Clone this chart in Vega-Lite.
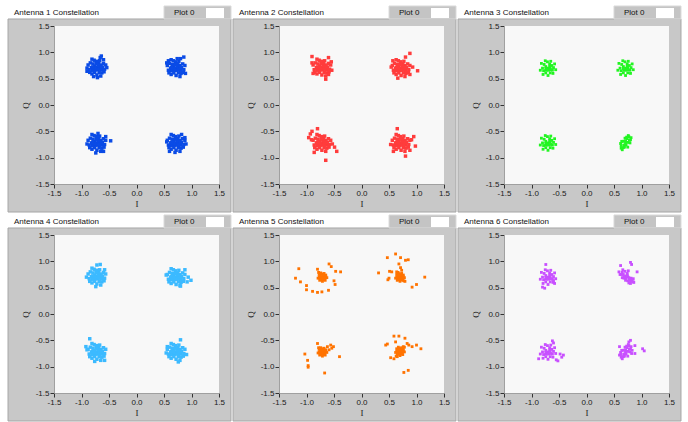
{
"$schema":"https://vega.github.io/schema/vega-lite/v6.json",
"background":"white",
"padding":{"left":7,"top":5,"right":0,"bottom":0},
"columns":3,
"spacing":{"row":51,"column":60},
"bounds":"flush",
"datasets":{
"d1":[
{"i":-0.72,"q":0.71},{"i":-0.68,"q":0.72},{"i":-0.76,"q":0.74},{"i":-0.71,"q":0.67},{"i":-0.75,"q":0.67},{"i":-0.65,"q":0.76},{"i":-0.79,"q":0.78},{"i":-0.64,"q":0.67},{"i":-0.80,"q":0.66},{"i":-0.69,"q":0.79},{"i":-0.73,"q":0.83},{"i":-0.68,"q":0.62},{"i":-0.76,"q":0.62},{"i":-0.62,"q":0.72},{"i":-0.82,"q":0.71},{"i":-0.60,"q":0.79},{"i":-0.84,"q":0.80},{"i":-0.63,"q":0.61},{"i":-0.81,"q":0.59},{"i":-0.67,"q":0.84},{"i":-0.77,"q":0.85},{"i":-0.58,"q":0.68},{"i":-0.86,"q":0.67},{"i":-0.72,"q":0.57},{"i":-0.56,"q":0.76},{"i":-0.88,"q":0.76},{"i":-0.65,"q":0.55},{"i":-0.81,"q":0.87},{"i":-0.59,"q":0.63},{"i":-0.85,"q":0.62},{"i":-0.69,"q":0.75},{"i":-0.76,"q":0.70},{"i":-0.67,"q":0.68},{"i":-0.73,"q":0.78},{"i":-0.80,"q":0.72},{"i":-0.64,"q":0.72},
{"i":-0.66,"q":0.90},{"i":-0.64,"q":0.93},{"i":-0.90,"q":0.70},{"i":-0.54,"q":0.71},{"i":-0.71,"q":0.52},{"i":-0.78,"q":0.54},{"i":-0.90,"q":0.64},{"i":-0.60,"q":0.86},
{"i":0.72,"q":0.70},{"i":0.76,"q":0.71},{"i":0.68,"q":0.73},{"i":0.73,"q":0.66},{"i":0.69,"q":0.66},{"i":0.79,"q":0.75},{"i":0.65,"q":0.77},{"i":0.80,"q":0.66},{"i":0.64,"q":0.65},{"i":0.75,"q":0.78},{"i":0.71,"q":0.82},{"i":0.76,"q":0.61},{"i":0.68,"q":0.61},{"i":0.82,"q":0.71},{"i":0.62,"q":0.70},{"i":0.84,"q":0.78},{"i":0.60,"q":0.79},{"i":0.81,"q":0.60},{"i":0.63,"q":0.58},{"i":0.77,"q":0.83},{"i":0.67,"q":0.84},{"i":0.86,"q":0.67},{"i":0.58,"q":0.66},{"i":0.72,"q":0.56},{"i":0.88,"q":0.75},{"i":0.56,"q":0.75},{"i":0.79,"q":0.54},{"i":0.63,"q":0.86},{"i":0.85,"q":0.62},{"i":0.59,"q":0.61},{"i":0.75,"q":0.74},{"i":0.68,"q":0.69},{"i":0.77,"q":0.67},{"i":0.71,"q":0.77},{"i":0.64,"q":0.71},{"i":0.80,"q":0.71},
{"i":0.86,"q":0.91},{"i":0.55,"q":0.80},{"i":0.58,"q":0.84},{"i":0.89,"q":0.60},{"i":0.74,"q":0.88},{"i":0.80,"q":0.88},
{"i":-0.72,"q":-0.72},{"i":-0.68,"q":-0.71},{"i":-0.76,"q":-0.69},{"i":-0.71,"q":-0.76},{"i":-0.75,"q":-0.76},{"i":-0.65,"q":-0.67},{"i":-0.79,"q":-0.65},{"i":-0.64,"q":-0.76},{"i":-0.80,"q":-0.77},{"i":-0.69,"q":-0.64},{"i":-0.73,"q":-0.60},{"i":-0.68,"q":-0.81},{"i":-0.76,"q":-0.81},{"i":-0.62,"q":-0.71},{"i":-0.82,"q":-0.72},{"i":-0.60,"q":-0.64},{"i":-0.84,"q":-0.63},{"i":-0.63,"q":-0.82},{"i":-0.81,"q":-0.84},{"i":-0.67,"q":-0.59},{"i":-0.77,"q":-0.58},{"i":-0.58,"q":-0.75},{"i":-0.86,"q":-0.76},{"i":-0.72,"q":-0.86},{"i":-0.56,"q":-0.67},{"i":-0.88,"q":-0.67},{"i":-0.65,"q":-0.88},{"i":-0.81,"q":-0.56},{"i":-0.59,"q":-0.80},{"i":-0.85,"q":-0.81},{"i":-0.69,"q":-0.68},{"i":-0.76,"q":-0.73},{"i":-0.67,"q":-0.75},{"i":-0.73,"q":-0.65},{"i":-0.80,"q":-0.71},{"i":-0.64,"q":-0.71},
{"i":-0.47,"q":-0.68},{"i":-0.74,"q":-0.91},{"i":-0.90,"q":-0.74},{"i":-0.56,"q":-0.60},{"i":-0.70,"q":-0.54},{"i":-0.60,"q":-0.88},
{"i":0.72,"q":-0.72},{"i":0.76,"q":-0.71},{"i":0.68,"q":-0.69},{"i":0.73,"q":-0.76},{"i":0.69,"q":-0.76},{"i":0.79,"q":-0.67},{"i":0.65,"q":-0.65},{"i":0.80,"q":-0.76},{"i":0.64,"q":-0.77},{"i":0.75,"q":-0.64},{"i":0.71,"q":-0.60},{"i":0.76,"q":-0.81},{"i":0.68,"q":-0.81},{"i":0.82,"q":-0.71},{"i":0.62,"q":-0.72},{"i":0.84,"q":-0.64},{"i":0.60,"q":-0.63},{"i":0.81,"q":-0.82},{"i":0.63,"q":-0.84},{"i":0.77,"q":-0.59},{"i":0.67,"q":-0.58},{"i":0.86,"q":-0.75},{"i":0.58,"q":-0.76},{"i":0.72,"q":-0.86},{"i":0.88,"q":-0.67},{"i":0.56,"q":-0.67},{"i":0.79,"q":-0.88},{"i":0.63,"q":-0.56},{"i":0.85,"q":-0.80},{"i":0.59,"q":-0.81},{"i":0.75,"q":-0.68},{"i":0.68,"q":-0.73},{"i":0.77,"q":-0.75},{"i":0.71,"q":-0.65},{"i":0.64,"q":-0.71},{"i":0.80,"q":-0.71},
{"i":0.82,"q":-0.56},{"i":0.88,"q":-0.62},{"i":0.90,"q":-0.74},{"i":0.60,"q":-0.88},{"i":0.55,"q":-0.70},{"i":0.70,"q":-0.90}
],
"d2":[
{"i":-0.72,"q":0.71},{"i":-0.68,"q":0.72},{"i":-0.76,"q":0.74},{"i":-0.71,"q":0.67},{"i":-0.75,"q":0.67},{"i":-0.65,"q":0.76},{"i":-0.79,"q":0.78},{"i":-0.64,"q":0.67},{"i":-0.80,"q":0.66},{"i":-0.69,"q":0.79},{"i":-0.73,"q":0.83},{"i":-0.68,"q":0.62},{"i":-0.76,"q":0.62},{"i":-0.62,"q":0.72},{"i":-0.82,"q":0.71},{"i":-0.60,"q":0.79},{"i":-0.84,"q":0.80},{"i":-0.63,"q":0.61},{"i":-0.81,"q":0.59},{"i":-0.67,"q":0.84},{"i":-0.77,"q":0.85},{"i":-0.58,"q":0.68},{"i":-0.86,"q":0.67},{"i":-0.72,"q":0.57},{"i":-0.56,"q":0.76},{"i":-0.88,"q":0.76},{"i":-0.65,"q":0.55},{"i":-0.81,"q":0.87},{"i":-0.59,"q":0.63},{"i":-0.85,"q":0.62},{"i":-0.69,"q":0.75},{"i":-0.76,"q":0.70},{"i":-0.67,"q":0.68},{"i":-0.73,"q":0.78},{"i":-0.80,"q":0.72},{"i":-0.64,"q":0.72},
{"i":-0.90,"q":0.92},{"i":-0.60,"q":0.90},{"i":-0.55,"q":0.82},{"i":-0.65,"q":0.49},{"i":-0.90,"q":0.80},{"i":-0.60,"q":0.58},{"i":-0.88,"q":0.60},{"i":-0.54,"q":0.66},
{"i":0.72,"q":0.70},{"i":0.76,"q":0.71},{"i":0.68,"q":0.73},{"i":0.73,"q":0.66},{"i":0.69,"q":0.66},{"i":0.79,"q":0.75},{"i":0.65,"q":0.77},{"i":0.80,"q":0.66},{"i":0.64,"q":0.65},{"i":0.75,"q":0.78},{"i":0.71,"q":0.82},{"i":0.76,"q":0.61},{"i":0.68,"q":0.61},{"i":0.82,"q":0.71},{"i":0.62,"q":0.70},{"i":0.84,"q":0.78},{"i":0.60,"q":0.79},{"i":0.81,"q":0.60},{"i":0.63,"q":0.58},{"i":0.77,"q":0.83},{"i":0.67,"q":0.84},{"i":0.86,"q":0.67},{"i":0.58,"q":0.66},{"i":0.72,"q":0.56},{"i":0.88,"q":0.75},{"i":0.56,"q":0.75},{"i":0.79,"q":0.54},{"i":0.63,"q":0.86},{"i":0.85,"q":0.62},{"i":0.59,"q":0.61},{"i":0.75,"q":0.74},{"i":0.68,"q":0.69},{"i":0.77,"q":0.67},{"i":0.71,"q":0.77},{"i":0.64,"q":0.71},{"i":0.80,"q":0.71},
{"i":0.88,"q":0.98},{"i":1.02,"q":0.65},{"i":0.57,"q":0.84},{"i":0.88,"q":0.58},{"i":0.93,"q":0.72},{"i":0.66,"q":0.51},{"i":0.54,"q":0.72},{"i":0.80,"q":0.91},
{"i":-0.72,"q":-0.72},{"i":-0.68,"q":-0.71},{"i":-0.76,"q":-0.69},{"i":-0.71,"q":-0.76},{"i":-0.75,"q":-0.76},{"i":-0.65,"q":-0.67},{"i":-0.79,"q":-0.65},{"i":-0.64,"q":-0.76},{"i":-0.80,"q":-0.77},{"i":-0.69,"q":-0.64},{"i":-0.73,"q":-0.60},{"i":-0.68,"q":-0.81},{"i":-0.76,"q":-0.81},{"i":-0.62,"q":-0.71},{"i":-0.82,"q":-0.72},{"i":-0.60,"q":-0.64},{"i":-0.84,"q":-0.63},{"i":-0.63,"q":-0.82},{"i":-0.81,"q":-0.84},{"i":-0.67,"q":-0.59},{"i":-0.77,"q":-0.58},{"i":-0.58,"q":-0.75},{"i":-0.86,"q":-0.76},{"i":-0.72,"q":-0.86},{"i":-0.56,"q":-0.67},{"i":-0.88,"q":-0.67},{"i":-0.65,"q":-0.88},{"i":-0.81,"q":-0.56},{"i":-0.59,"q":-0.80},{"i":-0.85,"q":-0.81},{"i":-0.69,"q":-0.68},{"i":-0.76,"q":-0.73},{"i":-0.67,"q":-0.75},{"i":-0.73,"q":-0.65},{"i":-0.80,"q":-0.71},{"i":-0.64,"q":-0.71},
{"i":-0.90,"q":-0.50},{"i":-0.93,"q":-0.55},{"i":-0.96,"q":-0.62},{"i":-0.80,"q":-0.45},{"i":-0.65,"q":-1.05},{"i":-0.45,"q":-0.88},{"i":-0.49,"q":-0.80},{"i":-0.91,"q":-0.66},{"i":-0.53,"q":-0.74},{"i":-0.86,"q":-0.90},
{"i":0.72,"q":-0.72},{"i":0.76,"q":-0.71},{"i":0.68,"q":-0.69},{"i":0.73,"q":-0.76},{"i":0.69,"q":-0.76},{"i":0.79,"q":-0.67},{"i":0.65,"q":-0.65},{"i":0.80,"q":-0.76},{"i":0.64,"q":-0.77},{"i":0.75,"q":-0.64},{"i":0.71,"q":-0.60},{"i":0.76,"q":-0.81},{"i":0.68,"q":-0.81},{"i":0.82,"q":-0.71},{"i":0.62,"q":-0.72},{"i":0.84,"q":-0.64},{"i":0.60,"q":-0.63},{"i":0.81,"q":-0.82},{"i":0.63,"q":-0.84},{"i":0.77,"q":-0.59},{"i":0.67,"q":-0.58},{"i":0.86,"q":-0.75},{"i":0.58,"q":-0.76},{"i":0.72,"q":-0.86},{"i":0.88,"q":-0.67},{"i":0.56,"q":-0.67},{"i":0.79,"q":-0.88},{"i":0.63,"q":-0.56},{"i":0.85,"q":-0.80},{"i":0.59,"q":-0.81},{"i":0.75,"q":-0.68},{"i":0.68,"q":-0.73},{"i":0.77,"q":-0.75},{"i":0.71,"q":-0.65},{"i":0.64,"q":-0.71},{"i":0.80,"q":-0.71},
{"i":0.65,"q":-0.45},{"i":0.95,"q":-0.60},{"i":0.98,"q":-0.78},{"i":0.80,"q":-0.97},{"i":0.53,"q":-0.75},{"i":0.91,"q":-0.66},{"i":0.58,"q":-0.88},{"i":0.88,"q":-0.86}
],
"d3":[
{"i":-0.70,"q":0.70},{"i":-0.66,"q":0.71},{"i":-0.74,"q":0.73},{"i":-0.69,"q":0.66},{"i":-0.73,"q":0.66},{"i":-0.63,"q":0.75},{"i":-0.77,"q":0.77},{"i":-0.62,"q":0.66},{"i":-0.78,"q":0.65},{"i":-0.67,"q":0.78},{"i":-0.71,"q":0.82},{"i":-0.66,"q":0.61},{"i":-0.74,"q":0.61},{"i":-0.60,"q":0.71},{"i":-0.80,"q":0.70},{"i":-0.58,"q":0.78},{"i":-0.82,"q":0.79},{"i":-0.61,"q":0.60},{"i":-0.79,"q":0.58},{"i":-0.65,"q":0.83},{"i":-0.75,"q":0.84},{"i":-0.56,"q":0.67},{"i":-0.84,"q":0.66},{"i":-0.70,"q":0.56},{"i":-0.67,"q":0.74},{"i":-0.74,"q":0.69},{"i":-0.65,"q":0.67},
{"i":0.71,"q":0.70},{"i":0.75,"q":0.71},{"i":0.67,"q":0.73},{"i":0.72,"q":0.66},{"i":0.68,"q":0.66},{"i":0.78,"q":0.75},{"i":0.64,"q":0.77},{"i":0.79,"q":0.66},{"i":0.63,"q":0.65},{"i":0.74,"q":0.78},{"i":0.70,"q":0.82},{"i":0.75,"q":0.61},{"i":0.67,"q":0.61},{"i":0.81,"q":0.71},{"i":0.61,"q":0.70},{"i":0.83,"q":0.78},{"i":0.59,"q":0.79},{"i":0.80,"q":0.60},{"i":0.62,"q":0.58},{"i":0.76,"q":0.83},{"i":0.66,"q":0.84},{"i":0.85,"q":0.67},{"i":0.57,"q":0.66},{"i":0.71,"q":0.56},{"i":0.74,"q":0.74},{"i":0.67,"q":0.69},{"i":0.76,"q":0.67},
{"i":-0.70,"q":-0.72},{"i":-0.66,"q":-0.71},{"i":-0.74,"q":-0.69},{"i":-0.69,"q":-0.76},{"i":-0.73,"q":-0.76},{"i":-0.63,"q":-0.67},{"i":-0.77,"q":-0.65},{"i":-0.62,"q":-0.76},{"i":-0.78,"q":-0.77},{"i":-0.67,"q":-0.64},{"i":-0.71,"q":-0.60},{"i":-0.66,"q":-0.81},{"i":-0.74,"q":-0.81},{"i":-0.60,"q":-0.71},{"i":-0.80,"q":-0.72},{"i":-0.58,"q":-0.64},{"i":-0.82,"q":-0.63},{"i":-0.61,"q":-0.82},{"i":-0.79,"q":-0.84},{"i":-0.65,"q":-0.59},{"i":-0.75,"q":-0.58},{"i":-0.56,"q":-0.75},{"i":-0.84,"q":-0.76},{"i":-0.70,"q":-0.86},{"i":-0.67,"q":-0.68},{"i":-0.74,"q":-0.73},{"i":-0.65,"q":-0.75},
{"i":0.71,"q":-0.72},{"i":0.75,"q":-0.71},{"i":0.67,"q":-0.69},{"i":0.72,"q":-0.76},{"i":0.68,"q":-0.76},{"i":0.78,"q":-0.67},{"i":0.64,"q":-0.69},{"i":0.79,"q":-0.72},{"i":0.63,"q":-0.77},{"i":0.74,"q":-0.64},{"i":0.70,"q":-0.63},{"i":0.75,"q":-0.80},{"i":0.67,"q":-0.81},{"i":0.80,"q":-0.66},{"i":0.62,"q":-0.73},{"i":0.77,"q":-0.60},{"i":0.65,"q":-0.85},{"i":0.76,"q":-0.58},{"i":0.63,"q":-0.82},{"i":0.81,"q":-0.62},{"i":0.71,"q":-0.68},{"i":0.69,"q":-0.80},{"i":0.73,"q":-0.61}
],
"d4":[
{"i":-0.72,"q":0.71},{"i":-0.68,"q":0.72},{"i":-0.76,"q":0.74},{"i":-0.71,"q":0.67},{"i":-0.75,"q":0.67},{"i":-0.65,"q":0.76},{"i":-0.79,"q":0.78},{"i":-0.64,"q":0.67},{"i":-0.80,"q":0.66},{"i":-0.69,"q":0.79},{"i":-0.73,"q":0.83},{"i":-0.68,"q":0.62},{"i":-0.76,"q":0.62},{"i":-0.62,"q":0.72},{"i":-0.82,"q":0.71},{"i":-0.60,"q":0.79},{"i":-0.84,"q":0.80},{"i":-0.63,"q":0.61},{"i":-0.81,"q":0.59},{"i":-0.67,"q":0.84},{"i":-0.77,"q":0.85},{"i":-0.58,"q":0.68},{"i":-0.86,"q":0.67},{"i":-0.72,"q":0.57},{"i":-0.56,"q":0.76},{"i":-0.88,"q":0.76},{"i":-0.65,"q":0.55},{"i":-0.81,"q":0.87},{"i":-0.59,"q":0.63},{"i":-0.85,"q":0.62},{"i":-0.69,"q":0.75},{"i":-0.76,"q":0.70},{"i":-0.67,"q":0.68},{"i":-0.73,"q":0.78},{"i":-0.80,"q":0.72},{"i":-0.64,"q":0.72},
{"i":-0.72,"q":0.93},{"i":-0.66,"q":0.94},{"i":-0.91,"q":0.70},{"i":-0.58,"q":0.84},{"i":-0.74,"q":0.52},
{"i":0.72,"q":0.70},{"i":0.76,"q":0.71},{"i":0.68,"q":0.73},{"i":0.73,"q":0.66},{"i":0.69,"q":0.66},{"i":0.79,"q":0.75},{"i":0.65,"q":0.77},{"i":0.80,"q":0.66},{"i":0.64,"q":0.65},{"i":0.75,"q":0.78},{"i":0.71,"q":0.82},{"i":0.76,"q":0.61},{"i":0.68,"q":0.61},{"i":0.82,"q":0.71},{"i":0.62,"q":0.70},{"i":0.84,"q":0.78},{"i":0.60,"q":0.79},{"i":0.81,"q":0.60},{"i":0.63,"q":0.58},{"i":0.77,"q":0.83},{"i":0.67,"q":0.84},{"i":0.86,"q":0.67},{"i":0.58,"q":0.66},{"i":0.72,"q":0.56},{"i":0.88,"q":0.75},{"i":0.56,"q":0.75},{"i":0.79,"q":0.54},{"i":0.63,"q":0.86},{"i":0.85,"q":0.62},{"i":0.59,"q":0.61},{"i":0.75,"q":0.74},{"i":0.68,"q":0.69},{"i":0.77,"q":0.67},{"i":0.71,"q":0.77},{"i":0.64,"q":0.71},{"i":0.80,"q":0.71},
{"i":0.99,"q":0.64},{"i":0.92,"q":0.61},{"i":0.88,"q":0.84},{"i":0.54,"q":0.74},{"i":0.80,"q":0.53},{"i":0.94,"q":0.70},
{"i":-0.72,"q":-0.72},{"i":-0.68,"q":-0.71},{"i":-0.76,"q":-0.69},{"i":-0.71,"q":-0.76},{"i":-0.75,"q":-0.76},{"i":-0.65,"q":-0.67},{"i":-0.79,"q":-0.65},{"i":-0.64,"q":-0.76},{"i":-0.80,"q":-0.77},{"i":-0.69,"q":-0.64},{"i":-0.73,"q":-0.60},{"i":-0.68,"q":-0.81},{"i":-0.76,"q":-0.81},{"i":-0.62,"q":-0.71},{"i":-0.82,"q":-0.72},{"i":-0.60,"q":-0.64},{"i":-0.84,"q":-0.63},{"i":-0.63,"q":-0.82},{"i":-0.81,"q":-0.84},{"i":-0.67,"q":-0.59},{"i":-0.77,"q":-0.58},{"i":-0.58,"q":-0.75},{"i":-0.86,"q":-0.76},{"i":-0.72,"q":-0.86},{"i":-0.56,"q":-0.67},{"i":-0.88,"q":-0.67},{"i":-0.65,"q":-0.88},{"i":-0.81,"q":-0.56},{"i":-0.59,"q":-0.80},{"i":-0.85,"q":-0.81},{"i":-0.69,"q":-0.68},{"i":-0.76,"q":-0.73},{"i":-0.67,"q":-0.75},{"i":-0.73,"q":-0.65},{"i":-0.80,"q":-0.71},{"i":-0.64,"q":-0.71},
{"i":-0.85,"q":-0.47},{"i":-0.92,"q":-0.62},{"i":-0.90,"q":-0.68},{"i":-0.58,"q":-0.88},{"i":-0.76,"q":-0.90},
{"i":0.72,"q":-0.72},{"i":0.76,"q":-0.71},{"i":0.68,"q":-0.69},{"i":0.73,"q":-0.76},{"i":0.69,"q":-0.76},{"i":0.79,"q":-0.67},{"i":0.65,"q":-0.65},{"i":0.80,"q":-0.76},{"i":0.64,"q":-0.77},{"i":0.75,"q":-0.64},{"i":0.71,"q":-0.60},{"i":0.76,"q":-0.81},{"i":0.68,"q":-0.81},{"i":0.82,"q":-0.71},{"i":0.62,"q":-0.72},{"i":0.84,"q":-0.64},{"i":0.60,"q":-0.63},{"i":0.81,"q":-0.82},{"i":0.63,"q":-0.84},{"i":0.77,"q":-0.59},{"i":0.67,"q":-0.58},{"i":0.86,"q":-0.75},{"i":0.58,"q":-0.76},{"i":0.72,"q":-0.86},{"i":0.88,"q":-0.67},{"i":0.56,"q":-0.67},{"i":0.79,"q":-0.88},{"i":0.63,"q":-0.56},{"i":0.85,"q":-0.80},{"i":0.59,"q":-0.81},{"i":0.75,"q":-0.68},{"i":0.68,"q":-0.73},{"i":0.77,"q":-0.75},{"i":0.71,"q":-0.65},{"i":0.64,"q":-0.71},{"i":0.80,"q":-0.71},
{"i":0.80,"q":-0.49},{"i":0.56,"q":-0.62},{"i":0.91,"q":-0.77},{"i":0.76,"q":-0.91},{"i":0.54,"q":-0.74}
],
"d5":[
{"i":-0.71,"q":0.70},{"i":-0.69,"q":0.71},{"i":-0.73,"q":0.71},{"i":-0.70,"q":0.68},{"i":-0.72,"q":0.68},{"i":-0.67,"q":0.73},{"i":-0.75,"q":0.74},{"i":-0.67,"q":0.68},{"i":-0.75,"q":0.67},{"i":-0.70,"q":0.74},{"i":-0.72,"q":0.76},{"i":-0.69,"q":0.65},{"i":-0.73,"q":0.65},{"i":-0.65,"q":0.71},{"i":-0.77,"q":0.70},{"i":-0.65,"q":0.74},{"i":-0.77,"q":0.75},{"i":-0.66,"q":0.64},{"i":-0.76,"q":0.64},{"i":-0.68,"q":0.77},{"i":-0.74,"q":0.78},{"i":-0.63,"q":0.69},{"i":-0.79,"q":0.68},{"i":-0.71,"q":0.62},
{"i":-1.14,"q":0.86},{"i":-1.20,"q":0.68},{"i":-1.11,"q":0.61},{"i":-1.00,"q":0.54},{"i":-1.00,"q":0.46},{"i":-0.89,"q":0.43},{"i":-0.80,"q":0.41},{"i":-0.72,"q":0.42},{"i":-0.60,"q":0.45},{"i":-0.50,"q":0.63},{"i":-0.48,"q":0.56},{"i":-0.47,"q":0.81},{"i":-0.38,"q":0.80},{"i":-0.59,"q":0.95},{"i":-0.55,"q":0.90},{"i":-0.80,"q":0.85},{"i":-0.78,"q":0.79},
{"i":0.70,"q":0.70},{"i":0.72,"q":0.71},{"i":0.68,"q":0.71},{"i":0.71,"q":0.68},{"i":0.69,"q":0.68},{"i":0.74,"q":0.73},{"i":0.66,"q":0.74},{"i":0.74,"q":0.68},{"i":0.66,"q":0.67},{"i":0.71,"q":0.74},{"i":0.69,"q":0.76},{"i":0.72,"q":0.65},{"i":0.68,"q":0.65},{"i":0.76,"q":0.71},{"i":0.64,"q":0.70},{"i":0.76,"q":0.74},{"i":0.64,"q":0.75},{"i":0.75,"q":0.64},{"i":0.65,"q":0.64},{"i":0.73,"q":0.77},{"i":0.67,"q":0.78},{"i":0.78,"q":0.69},{"i":0.62,"q":0.68},{"i":0.70,"q":0.62},
{"i":0.77,"q":0.63},{"i":0.79,"q":0.62},{"i":0.66,"q":0.79},{"i":0.64,"q":0.80},
{"i":0.62,"q":1.14},{"i":0.71,"q":1.07},{"i":0.47,"q":1.07},{"i":0.80,"q":1.02},{"i":0.85,"q":1.03},{"i":0.31,"q":0.78},{"i":0.51,"q":0.81},{"i":0.55,"q":0.80},{"i":0.48,"q":0.65},{"i":0.71,"q":0.88},{"i":0.73,"q":0.83},{"i":1.00,"q":0.56},{"i":0.92,"q":0.51},{"i":1.15,"q":0.70},{"i":0.68,"q":0.95},{"i":0.50,"q":0.68},
{"i":-0.71,"q":-0.72},{"i":-0.69,"q":-0.71},{"i":-0.73,"q":-0.71},{"i":-0.70,"q":-0.74},{"i":-0.72,"q":-0.74},{"i":-0.67,"q":-0.69},{"i":-0.75,"q":-0.68},{"i":-0.67,"q":-0.74},{"i":-0.75,"q":-0.75},{"i":-0.70,"q":-0.68},{"i":-0.72,"q":-0.66},{"i":-0.69,"q":-0.77},{"i":-0.73,"q":-0.77},{"i":-0.65,"q":-0.71},{"i":-0.77,"q":-0.72},{"i":-0.65,"q":-0.68},{"i":-0.77,"q":-0.67},{"i":-0.66,"q":-0.78},{"i":-0.76,"q":-0.78},{"i":-0.68,"q":-0.65},{"i":-0.74,"q":-0.64},{"i":-0.63,"q":-0.73},{"i":-0.79,"q":-0.74},{"i":-0.71,"q":-0.80},
{"i":-0.80,"q":-0.56},{"i":-0.56,"q":-0.59},{"i":-0.51,"q":-0.62},{"i":-0.54,"q":-0.65},{"i":-1.03,"q":-0.76},{"i":-0.98,"q":-0.88},{"i":-0.97,"q":-0.98},{"i":-0.97,"q":-1.01},{"i":-0.67,"q":-1.12},{"i":-0.40,"q":-0.81},{"i":-0.62,"q":-0.62},{"i":-0.59,"q":-0.68},{"i":-0.78,"q":-0.64},
{"i":0.70,"q":-0.71},{"i":0.72,"q":-0.70},{"i":0.68,"q":-0.70},{"i":0.71,"q":-0.73},{"i":0.69,"q":-0.73},{"i":0.74,"q":-0.68},{"i":0.66,"q":-0.67},{"i":0.74,"q":-0.73},{"i":0.66,"q":-0.74},{"i":0.71,"q":-0.67},{"i":0.69,"q":-0.65},{"i":0.72,"q":-0.76},{"i":0.68,"q":-0.76},{"i":0.76,"q":-0.70},{"i":0.64,"q":-0.71},{"i":0.76,"q":-0.67},{"i":0.64,"q":-0.66},{"i":0.75,"q":-0.77},{"i":0.65,"q":-0.77},{"i":0.73,"q":-0.64},{"i":0.67,"q":-0.63},{"i":0.78,"q":-0.72},{"i":0.62,"q":-0.73},{"i":0.70,"q":-0.79},
{"i":0.76,"q":-0.62},{"i":0.78,"q":-0.63},{"i":0.63,"q":-0.80},{"i":0.65,"q":-0.81},
{"i":0.47,"q":-0.57},{"i":0.44,"q":-0.59},{"i":0.59,"q":-0.42},{"i":0.68,"q":-0.42},{"i":0.79,"q":-0.46},{"i":0.83,"q":-0.56},{"i":0.86,"q":-0.59},{"i":0.92,"q":-0.62},{"i":1.00,"q":-0.59},{"i":1.08,"q":-0.66},{"i":0.53,"q":-0.83},{"i":0.59,"q":-0.85},{"i":0.77,"q":-1.11},{"i":0.85,"q":-1.07},{"i":0.62,"q":-0.53}
],
"d6":[
{"i":-0.70,"q":0.70},{"i":-0.66,"q":0.71},{"i":-0.74,"q":0.73},{"i":-0.69,"q":0.66},{"i":-0.73,"q":0.66},{"i":-0.63,"q":0.75},{"i":-0.77,"q":0.77},{"i":-0.62,"q":0.66},{"i":-0.78,"q":0.65},{"i":-0.67,"q":0.78},{"i":-0.71,"q":0.82},{"i":-0.66,"q":0.61},{"i":-0.74,"q":0.61},{"i":-0.60,"q":0.71},{"i":-0.80,"q":0.70},{"i":-0.58,"q":0.78},{"i":-0.82,"q":0.79},{"i":-0.61,"q":0.60},{"i":-0.79,"q":0.58},{"i":-0.65,"q":0.83},{"i":-0.75,"q":0.84},{"i":-0.56,"q":0.67},{"i":-0.84,"q":0.66},{"i":-0.70,"q":0.56},{"i":-0.67,"q":0.74},{"i":-0.74,"q":0.69},{"i":-0.65,"q":0.67},
{"i":-0.74,"q":0.94},{"i":-0.80,"q":0.51},{"i":-0.76,"q":0.49},{"i":-0.58,"q":0.58},{"i":-0.60,"q":0.63},
{"i":0.71,"q":0.72},{"i":0.75,"q":0.71},{"i":0.67,"q":0.75},{"i":0.72,"q":0.68},{"i":0.68,"q":0.68},{"i":0.77,"q":0.69},{"i":0.65,"q":0.79},{"i":0.79,"q":0.65},{"i":0.63,"q":0.75},{"i":0.74,"q":0.77},{"i":0.70,"q":0.81},{"i":0.75,"q":0.63},{"i":0.80,"q":0.62},{"i":0.81,"q":0.68},{"i":0.61,"q":0.75},{"i":0.83,"q":0.64},{"i":0.59,"q":0.80},{"i":0.85,"q":0.61},{"i":0.65,"q":0.69},{"i":0.76,"q":0.82},{"i":0.66,"q":0.84},{"i":0.85,"q":0.67},{"i":0.77,"q":0.59},{"i":0.71,"q":0.64},{"i":0.74,"q":0.74},{"i":0.68,"q":0.71},{"i":0.78,"q":0.66},
{"i":0.62,"q":0.92},{"i":0.80,"q":0.98},{"i":0.92,"q":0.80},{"i":0.82,"q":0.94},{"i":0.86,"q":0.60},{"i":0.80,"q":0.58},
{"i":-0.70,"q":-0.72},{"i":-0.66,"q":-0.71},{"i":-0.74,"q":-0.69},{"i":-0.69,"q":-0.76},{"i":-0.73,"q":-0.76},{"i":-0.63,"q":-0.67},{"i":-0.77,"q":-0.65},{"i":-0.62,"q":-0.76},{"i":-0.78,"q":-0.77},{"i":-0.67,"q":-0.64},{"i":-0.71,"q":-0.60},{"i":-0.66,"q":-0.81},{"i":-0.74,"q":-0.81},{"i":-0.60,"q":-0.71},{"i":-0.80,"q":-0.72},{"i":-0.58,"q":-0.64},{"i":-0.82,"q":-0.63},{"i":-0.61,"q":-0.82},{"i":-0.79,"q":-0.84},{"i":-0.65,"q":-0.59},{"i":-0.75,"q":-0.58},{"i":-0.56,"q":-0.75},{"i":-0.84,"q":-0.76},{"i":-0.70,"q":-0.86},{"i":-0.67,"q":-0.68},{"i":-0.74,"q":-0.73},{"i":-0.65,"q":-0.75},
{"i":-0.48,"q":-0.76},{"i":-0.42,"q":-0.78},{"i":-0.45,"q":-0.82},{"i":-0.52,"q":-0.89},{"i":-0.87,"q":-0.85},{"i":-0.62,"q":-0.51},{"i":-0.60,"q":-0.55},{"i":-0.55,"q":-0.87},
{"i":0.71,"q":-0.72},{"i":0.75,"q":-0.71},{"i":0.67,"q":-0.69},{"i":0.72,"q":-0.76},{"i":0.68,"q":-0.76},{"i":0.78,"q":-0.67},{"i":0.64,"q":-0.69},{"i":0.79,"q":-0.72},{"i":0.63,"q":-0.77},{"i":0.74,"q":-0.64},{"i":0.70,"q":-0.63},{"i":0.75,"q":-0.80},{"i":0.67,"q":-0.81},{"i":0.80,"q":-0.66},{"i":0.62,"q":-0.73},{"i":0.77,"q":-0.60},{"i":0.65,"q":-0.85},{"i":0.76,"q":-0.58},{"i":0.63,"q":-0.82},{"i":0.81,"q":-0.62},{"i":0.71,"q":-0.68},{"i":0.69,"q":-0.80},{"i":0.73,"q":-0.61},{"i":0.83,"q":-0.69},{"i":0.82,"q":-0.75},{"i":0.60,"q":-0.78},
{"i":1.02,"q":-0.66},{"i":1.05,"q":-0.70},{"i":0.88,"q":-0.60},{"i":0.80,"q":-0.50},{"i":0.77,"q":-0.53},{"i":0.88,"q":-0.75},{"i":0.60,"q":-0.62}
]
},
"concat":[
{"width":165,"height":158,"layer":[
{"data":{"values":[{}]},"mark":{"type":"rect","fill":"#c8c8c8","stroke":"#a6a6a6","strokeWidth":1},"encoding":{"x":{"datum":-2.336,"type":"quantitative","scale":{"domain":[-1.5,1.5],"nice":false,"zero":false}},"x2":{"datum":1.718},"y":{"datum":1.633,"type":"quantitative","scale":{"domain":[-1.5,1.5],"nice":false,"zero":false}},"y2":{"datum":-2.032}}},
{"data":{"values":[{}]},"mark":{"type":"rect","fill":"#f8f8f8"},"encoding":{"x":{"datum":-1.5,"type":"quantitative"},"x2":{"datum":1.5},"y":{"datum":1.5,"type":"quantitative"},"y2":{"datum":-1.5}}},
{"data":{"values":[{}]},"mark":{"type":"rect","fill":"#c4c4c4","stroke":"#dadada","strokeWidth":1},"encoding":{"x":{"datum":0.5,"type":"quantitative"},"x2":{"datum":1.718},"y":{"datum":1.88,"type":"quantitative"},"y2":{"datum":1.633}}},
{"data":{"values":[{}]},"mark":{"type":"rect","fill":"#ffffff"},"encoding":{"x":{"datum":1.264,"type":"quantitative"},"x2":{"datum":1.591},"y":{"datum":1.842,"type":"quantitative"},"y2":{"datum":1.652}}},
{"data":{"values":[{}]},"mark":{"type":"text","align":"left","baseline":"middle","font":"Liberation Sans","fontSize":8,"color":"#111111"},"encoding":{"x":{"datum":0.682,"type":"quantitative"},"y":{"datum":1.747,"type":"quantitative"},"text":{"value":"Plot 0"}}},
{"data":{"values":[{}]},"mark":{"type":"text","align":"left","baseline":"middle","font":"Liberation Sans","fontSize":8,"color":"#111111"},"encoding":{"x":{"datum":-2.227,"type":"quantitative"},"y":{"datum":1.747,"type":"quantitative"},"text":{"value":"Antenna 1 Constellation"}}},
{"data":{"name":"d1"},"mark":{"type":"square","size":12,"opacity":1,"color":"#0a4be6"},"encoding":{"x":{"field":"i","type":"quantitative","scale":{"domain":[-1.5,1.5],"nice":false,"zero":false},"axis":{"title":"I","zindex":2,"tickCount":20,"labelOverlap":false,"labelBound":false,"values":[-1.5,-1,-0.5,0,0.5,1,1.5],"format":".1f"}},"y":{"field":"q","type":"quantitative","scale":{"domain":[-1.5,1.5],"nice":false,"zero":false},"axis":{"title":"Q","zindex":2,"tickCount":20,"labelOverlap":false,"labelBound":false,"values":[-1.5,-1,-0.5,0,0.5,1,1.5],"format":".1f"}}}}
]},
{"width":165,"height":158,"layer":[
{"data":{"values":[{}]},"mark":{"type":"rect","fill":"#c8c8c8","stroke":"#a6a6a6","strokeWidth":1},"encoding":{"x":{"datum":-2.336,"type":"quantitative","scale":{"domain":[-1.5,1.5],"nice":false,"zero":false}},"x2":{"datum":1.718},"y":{"datum":1.633,"type":"quantitative","scale":{"domain":[-1.5,1.5],"nice":false,"zero":false}},"y2":{"datum":-2.032}}},
{"data":{"values":[{}]},"mark":{"type":"rect","fill":"#f8f8f8"},"encoding":{"x":{"datum":-1.5,"type":"quantitative"},"x2":{"datum":1.5},"y":{"datum":1.5,"type":"quantitative"},"y2":{"datum":-1.5}}},
{"data":{"values":[{}]},"mark":{"type":"rect","fill":"#c4c4c4","stroke":"#dadada","strokeWidth":1},"encoding":{"x":{"datum":0.5,"type":"quantitative"},"x2":{"datum":1.718},"y":{"datum":1.88,"type":"quantitative"},"y2":{"datum":1.633}}},
{"data":{"values":[{}]},"mark":{"type":"rect","fill":"#ffffff"},"encoding":{"x":{"datum":1.264,"type":"quantitative"},"x2":{"datum":1.591},"y":{"datum":1.842,"type":"quantitative"},"y2":{"datum":1.652}}},
{"data":{"values":[{}]},"mark":{"type":"text","align":"left","baseline":"middle","font":"Liberation Sans","fontSize":8,"color":"#111111"},"encoding":{"x":{"datum":0.682,"type":"quantitative"},"y":{"datum":1.747,"type":"quantitative"},"text":{"value":"Plot 0"}}},
{"data":{"values":[{}]},"mark":{"type":"text","align":"left","baseline":"middle","font":"Liberation Sans","fontSize":8,"color":"#111111"},"encoding":{"x":{"datum":-2.227,"type":"quantitative"},"y":{"datum":1.747,"type":"quantitative"},"text":{"value":"Antenna 2 Constellation"}}},
{"data":{"name":"d2"},"mark":{"type":"square","size":12,"opacity":1,"color":"#ff3c3c"},"encoding":{"x":{"field":"i","type":"quantitative","scale":{"domain":[-1.5,1.5],"nice":false,"zero":false},"axis":{"title":"I","zindex":2,"tickCount":20,"labelOverlap":false,"labelBound":false,"values":[-1.5,-1,-0.5,0,0.5,1,1.5],"format":".1f"}},"y":{"field":"q","type":"quantitative","scale":{"domain":[-1.5,1.5],"nice":false,"zero":false},"axis":{"title":"Q","zindex":2,"tickCount":20,"labelOverlap":false,"labelBound":false,"values":[-1.5,-1,-0.5,0,0.5,1,1.5],"format":".1f"}}}}
]},
{"width":165,"height":158,"layer":[
{"data":{"values":[{}]},"mark":{"type":"rect","fill":"#c8c8c8","stroke":"#a6a6a6","strokeWidth":1},"encoding":{"x":{"datum":-2.336,"type":"quantitative","scale":{"domain":[-1.5,1.5],"nice":false,"zero":false}},"x2":{"datum":1.718},"y":{"datum":1.633,"type":"quantitative","scale":{"domain":[-1.5,1.5],"nice":false,"zero":false}},"y2":{"datum":-2.032}}},
{"data":{"values":[{}]},"mark":{"type":"rect","fill":"#f8f8f8"},"encoding":{"x":{"datum":-1.5,"type":"quantitative"},"x2":{"datum":1.5},"y":{"datum":1.5,"type":"quantitative"},"y2":{"datum":-1.5}}},
{"data":{"values":[{}]},"mark":{"type":"rect","fill":"#c4c4c4","stroke":"#dadada","strokeWidth":1},"encoding":{"x":{"datum":0.5,"type":"quantitative"},"x2":{"datum":1.718},"y":{"datum":1.88,"type":"quantitative"},"y2":{"datum":1.633}}},
{"data":{"values":[{}]},"mark":{"type":"rect","fill":"#ffffff"},"encoding":{"x":{"datum":1.264,"type":"quantitative"},"x2":{"datum":1.591},"y":{"datum":1.842,"type":"quantitative"},"y2":{"datum":1.652}}},
{"data":{"values":[{}]},"mark":{"type":"text","align":"left","baseline":"middle","font":"Liberation Sans","fontSize":8,"color":"#111111"},"encoding":{"x":{"datum":0.682,"type":"quantitative"},"y":{"datum":1.747,"type":"quantitative"},"text":{"value":"Plot 0"}}},
{"data":{"values":[{}]},"mark":{"type":"text","align":"left","baseline":"middle","font":"Liberation Sans","fontSize":8,"color":"#111111"},"encoding":{"x":{"datum":-2.227,"type":"quantitative"},"y":{"datum":1.747,"type":"quantitative"},"text":{"value":"Antenna 3 Constellation"}}},
{"data":{"name":"d3"},"mark":{"type":"square","size":8,"opacity":1,"color":"#22f522"},"encoding":{"x":{"field":"i","type":"quantitative","scale":{"domain":[-1.5,1.5],"nice":false,"zero":false},"axis":{"title":"I","zindex":2,"tickCount":20,"labelOverlap":false,"labelBound":false,"values":[-1.5,-1,-0.5,0,0.5,1,1.5],"format":".1f"}},"y":{"field":"q","type":"quantitative","scale":{"domain":[-1.5,1.5],"nice":false,"zero":false},"axis":{"title":"Q","zindex":2,"tickCount":20,"labelOverlap":false,"labelBound":false,"values":[-1.5,-1,-0.5,0,0.5,1,1.5],"format":".1f"}}}}
]},
{"width":165,"height":158,"layer":[
{"data":{"values":[{}]},"mark":{"type":"rect","fill":"#c8c8c8","stroke":"#a6a6a6","strokeWidth":1},"encoding":{"x":{"datum":-2.336,"type":"quantitative","scale":{"domain":[-1.5,1.5],"nice":false,"zero":false}},"x2":{"datum":1.718},"y":{"datum":1.633,"type":"quantitative","scale":{"domain":[-1.5,1.5],"nice":false,"zero":false}},"y2":{"datum":-2.032}}},
{"data":{"values":[{}]},"mark":{"type":"rect","fill":"#f8f8f8"},"encoding":{"x":{"datum":-1.5,"type":"quantitative"},"x2":{"datum":1.5},"y":{"datum":1.5,"type":"quantitative"},"y2":{"datum":-1.5}}},
{"data":{"values":[{}]},"mark":{"type":"rect","fill":"#c4c4c4","stroke":"#dadada","strokeWidth":1},"encoding":{"x":{"datum":0.5,"type":"quantitative"},"x2":{"datum":1.718},"y":{"datum":1.88,"type":"quantitative"},"y2":{"datum":1.633}}},
{"data":{"values":[{}]},"mark":{"type":"rect","fill":"#ffffff"},"encoding":{"x":{"datum":1.264,"type":"quantitative"},"x2":{"datum":1.591},"y":{"datum":1.842,"type":"quantitative"},"y2":{"datum":1.652}}},
{"data":{"values":[{}]},"mark":{"type":"text","align":"left","baseline":"middle","font":"Liberation Sans","fontSize":8,"color":"#111111"},"encoding":{"x":{"datum":0.682,"type":"quantitative"},"y":{"datum":1.747,"type":"quantitative"},"text":{"value":"Plot 0"}}},
{"data":{"values":[{}]},"mark":{"type":"text","align":"left","baseline":"middle","font":"Liberation Sans","fontSize":8,"color":"#111111"},"encoding":{"x":{"datum":-2.227,"type":"quantitative"},"y":{"datum":1.747,"type":"quantitative"},"text":{"value":"Antenna 4 Constellation"}}},
{"data":{"name":"d4"},"mark":{"type":"square","size":12,"opacity":1,"color":"#3cbaff"},"encoding":{"x":{"field":"i","type":"quantitative","scale":{"domain":[-1.5,1.5],"nice":false,"zero":false},"axis":{"title":"I","zindex":2,"tickCount":20,"labelOverlap":false,"labelBound":false,"values":[-1.5,-1,-0.5,0,0.5,1,1.5],"format":".1f"}},"y":{"field":"q","type":"quantitative","scale":{"domain":[-1.5,1.5],"nice":false,"zero":false},"axis":{"title":"Q","zindex":2,"tickCount":20,"labelOverlap":false,"labelBound":false,"values":[-1.5,-1,-0.5,0,0.5,1,1.5],"format":".1f"}}}}
]},
{"width":165,"height":158,"layer":[
{"data":{"values":[{}]},"mark":{"type":"rect","fill":"#c8c8c8","stroke":"#a6a6a6","strokeWidth":1},"encoding":{"x":{"datum":-2.336,"type":"quantitative","scale":{"domain":[-1.5,1.5],"nice":false,"zero":false}},"x2":{"datum":1.718},"y":{"datum":1.633,"type":"quantitative","scale":{"domain":[-1.5,1.5],"nice":false,"zero":false}},"y2":{"datum":-2.032}}},
{"data":{"values":[{}]},"mark":{"type":"rect","fill":"#f8f8f8"},"encoding":{"x":{"datum":-1.5,"type":"quantitative"},"x2":{"datum":1.5},"y":{"datum":1.5,"type":"quantitative"},"y2":{"datum":-1.5}}},
{"data":{"values":[{}]},"mark":{"type":"rect","fill":"#c4c4c4","stroke":"#dadada","strokeWidth":1},"encoding":{"x":{"datum":0.5,"type":"quantitative"},"x2":{"datum":1.718},"y":{"datum":1.88,"type":"quantitative"},"y2":{"datum":1.633}}},
{"data":{"values":[{}]},"mark":{"type":"rect","fill":"#ffffff"},"encoding":{"x":{"datum":1.264,"type":"quantitative"},"x2":{"datum":1.591},"y":{"datum":1.842,"type":"quantitative"},"y2":{"datum":1.652}}},
{"data":{"values":[{}]},"mark":{"type":"text","align":"left","baseline":"middle","font":"Liberation Sans","fontSize":8,"color":"#111111"},"encoding":{"x":{"datum":0.682,"type":"quantitative"},"y":{"datum":1.747,"type":"quantitative"},"text":{"value":"Plot 0"}}},
{"data":{"values":[{}]},"mark":{"type":"text","align":"left","baseline":"middle","font":"Liberation Sans","fontSize":8,"color":"#111111"},"encoding":{"x":{"datum":-2.227,"type":"quantitative"},"y":{"datum":1.747,"type":"quantitative"},"text":{"value":"Antenna 5 Constellation"}}},
{"data":{"name":"d5"},"mark":{"type":"square","size":8,"opacity":1,"color":"#ff7300"},"encoding":{"x":{"field":"i","type":"quantitative","scale":{"domain":[-1.5,1.5],"nice":false,"zero":false},"axis":{"title":"I","zindex":2,"tickCount":20,"labelOverlap":false,"labelBound":false,"values":[-1.5,-1,-0.5,0,0.5,1,1.5],"format":".1f"}},"y":{"field":"q","type":"quantitative","scale":{"domain":[-1.5,1.5],"nice":false,"zero":false},"axis":{"title":"Q","zindex":2,"tickCount":20,"labelOverlap":false,"labelBound":false,"values":[-1.5,-1,-0.5,0,0.5,1,1.5],"format":".1f"}}}}
]},
{"width":165,"height":158,"layer":[
{"data":{"values":[{}]},"mark":{"type":"rect","fill":"#c8c8c8","stroke":"#a6a6a6","strokeWidth":1},"encoding":{"x":{"datum":-2.336,"type":"quantitative","scale":{"domain":[-1.5,1.5],"nice":false,"zero":false}},"x2":{"datum":1.718},"y":{"datum":1.633,"type":"quantitative","scale":{"domain":[-1.5,1.5],"nice":false,"zero":false}},"y2":{"datum":-2.032}}},
{"data":{"values":[{}]},"mark":{"type":"rect","fill":"#f8f8f8"},"encoding":{"x":{"datum":-1.5,"type":"quantitative"},"x2":{"datum":1.5},"y":{"datum":1.5,"type":"quantitative"},"y2":{"datum":-1.5}}},
{"data":{"values":[{}]},"mark":{"type":"rect","fill":"#c4c4c4","stroke":"#dadada","strokeWidth":1},"encoding":{"x":{"datum":0.5,"type":"quantitative"},"x2":{"datum":1.718},"y":{"datum":1.88,"type":"quantitative"},"y2":{"datum":1.633}}},
{"data":{"values":[{}]},"mark":{"type":"rect","fill":"#ffffff"},"encoding":{"x":{"datum":1.264,"type":"quantitative"},"x2":{"datum":1.591},"y":{"datum":1.842,"type":"quantitative"},"y2":{"datum":1.652}}},
{"data":{"values":[{}]},"mark":{"type":"text","align":"left","baseline":"middle","font":"Liberation Sans","fontSize":8,"color":"#111111"},"encoding":{"x":{"datum":0.682,"type":"quantitative"},"y":{"datum":1.747,"type":"quantitative"},"text":{"value":"Plot 0"}}},
{"data":{"values":[{}]},"mark":{"type":"text","align":"left","baseline":"middle","font":"Liberation Sans","fontSize":8,"color":"#111111"},"encoding":{"x":{"datum":-2.227,"type":"quantitative"},"y":{"datum":1.747,"type":"quantitative"},"text":{"value":"Antenna 6 Constellation"}}},
{"data":{"name":"d6"},"mark":{"type":"square","size":8,"opacity":1,"color":"#c850ff"},"encoding":{"x":{"field":"i","type":"quantitative","scale":{"domain":[-1.5,1.5],"nice":false,"zero":false},"axis":{"title":"I","zindex":2,"tickCount":20,"labelOverlap":false,"labelBound":false,"values":[-1.5,-1,-0.5,0,0.5,1,1.5],"format":".1f"}},"y":{"field":"q","type":"quantitative","scale":{"domain":[-1.5,1.5],"nice":false,"zero":false},"axis":{"title":"Q","zindex":2,"tickCount":20,"labelOverlap":false,"labelBound":false,"values":[-1.5,-1,-0.5,0,0.5,1,1.5],"format":".1f"}}}}
]}
],
"config":{
"view":{"stroke":null},
"locale":{"number":{"decimal":".","thousands":",","grouping":[3],"currency":["$",""],"minus":"-"}},
"axis":{"grid":false,"labelFont":"Liberation Sans","labelFontSize":8,"labelColor":"#1a1a1a","tickColor":"#333333","tickSize":4,"domainColor":"#a0a0a0","titleFont":"Liberation Serif","titleFontSize":9,"titleFontWeight":"normal","titleColor":"#1a1a1a","labelPadding":1,"labelFlush":false,"labelOverlap":false},
"axisX":{"titlePadding":2},
"axisY":{"titlePadding":5}
}
}
